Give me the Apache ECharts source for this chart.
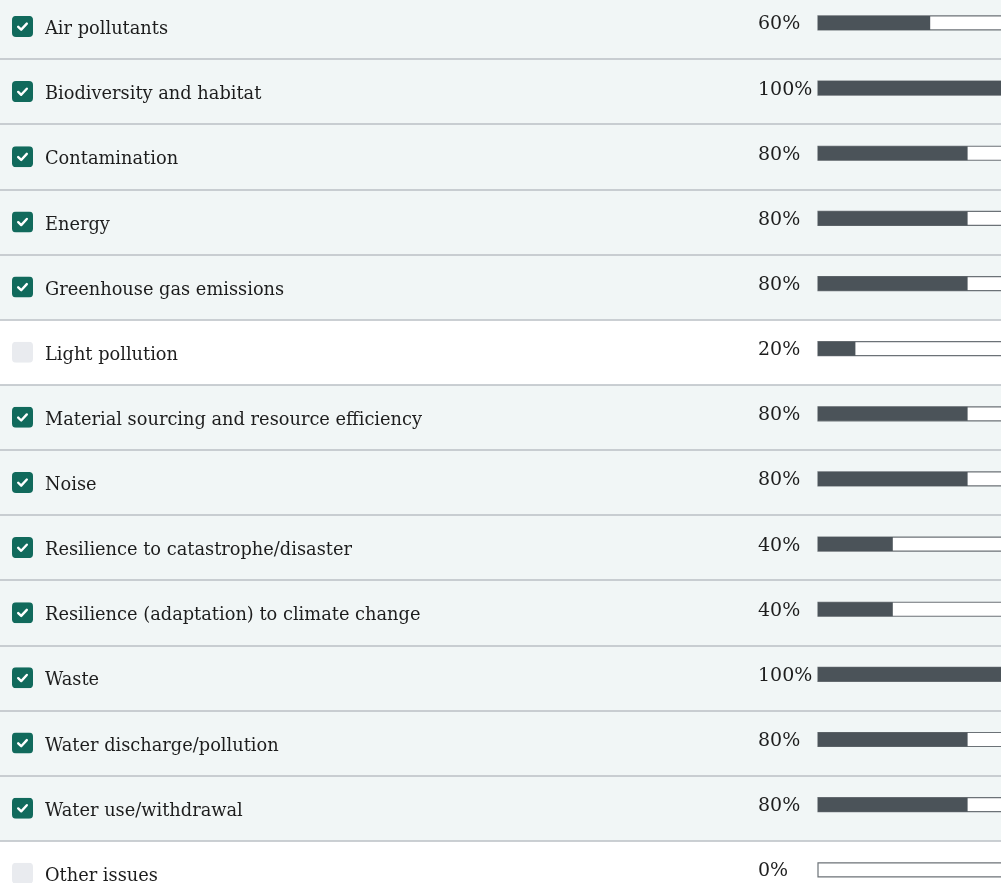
<!DOCTYPE html>
<html>
<head>
<meta charset="utf-8">
<title>Environmental issues covered</title>
<script src="https://cdn.jsdelivr.net/npm/echarts@6/dist/echarts.min.js"></script>
<style>
  html, body { margin: 0; padding: 0; background: #ffffff; }
  #chart { width: 1001px; height: 883px; }
</style>
</head>
<body>
<div id="chart"></div>
<script>
// Issues, the share of responses addressing each one, and whether it is covered
const categories = [
  'Air pollutants',
  'Biodiversity and habitat',
  'Contamination',
  'Energy',
  'Greenhouse gas emissions',
  'Light pollution',
  'Material sourcing and resource efficiency',
  'Noise',
  'Resilience to catastrophe/disaster',
  'Resilience (adaptation) to climate change',
  'Waste',
  'Water discharge/pollution',
  'Water use/withdrawal',
  'Other issues'
];
const shares = [60, 100, 80, 80, 80, 20, 80, 80, 40, 40, 100, 80, 80, 0];
const covered = [true, true, true, true, true, false, true, true, true, true, true, true, true, false];

const ROW_TOP = -6.1;
const ROW_H = 65.14;
const SERIF = '"DejaVu Serif", "Liberation Serif", serif';

// Checkbox glyphs as small SVG images
const boxOn = 'data:image/svg+xml;utf8,' + encodeURIComponent(
  '<svg xmlns="http://www.w3.org/2000/svg" width="21" height="21" viewBox="0 0 21 21">' +
  '<rect x="0" y="0" width="21" height="21" rx="4" ry="4" fill="#116a5c"/>' +
  '<path d="M6.2 10.8 L9.2 13.7 L14.8 7.6" fill="none" stroke="#ffffff" stroke-width="2.4" stroke-linecap="round" stroke-linejoin="round"/>' +
  '</svg>');
const boxOff = 'data:image/svg+xml;utf8,' + encodeURIComponent(
  '<svg xmlns="http://www.w3.org/2000/svg" width="21" height="21" viewBox="0 0 21 21">' +
  '<rect x="0" y="0" width="21" height="21" rx="4" ry="4" fill="#e9ebef"/>' +
  '</svg>');

const chart = echarts.init(document.getElementById('chart'), null, { renderer: 'canvas' });

chart.setOption({
  animation: false,
  backgroundColor: '#ffffff',
  grid: [
    {
      left: 0, width: 1001, top: ROW_TOP, height: ROW_H * categories.length,
      containLabel: false, outerBoundsMode: 'none'
    },
    {
      left: 818, width: 187, top: ROW_TOP - 3.5, height: ROW_H * categories.length,
      containLabel: false, outerBoundsMode: 'none'
    }
  ],
  xAxis: [
    { type: 'value', gridIndex: 0, min: 0, max: 1, show: false },
    { type: 'value', gridIndex: 1, min: 0, max: 100, show: false }
  ],
  yAxis: [
    {
      type: 'category',
      gridIndex: 0,
      data: categories,
      inverse: true,
      z: 5,
      axisLine: { show: false },
      axisTick: { show: false },
      splitLine: { show: true, lineStyle: { color: '#babfc4', width: 1.6 } },
      axisLabel: {
        inside: true,
        margin: 12,
        formatter: function (value, index) {
          return (covered[index] ? '{on|}' : '{off|}') + '{name|' + value + '}';
        },
        rich: {
          on: { width: 21, height: 21, backgroundColor: { image: boxOn } },
          off: { width: 21, height: 21, backgroundColor: { image: boxOff } },
          name: {
            fontFamily: SERIF,
            fontSize: 17.8,
            color: '#1d1d1d',
            padding: [6, 0, 0, 12]
          }
        }
      }
    },
    {
      type: 'category',
      gridIndex: 1,
      data: categories,
      inverse: true,
      show: false
    }
  ],
  series: [
    {
      // row backgrounds: tinted when the issue is covered
      type: 'bar',
      xAxisIndex: 0,
      yAxisIndex: 0,
      barWidth: '100%',
      silent: true,
      z: 1,
      data: covered.map(function (c) {
        return { value: 1, itemStyle: { color: c ? '#f1f6f6' : '#ffffff' } };
      })
    },
    {
      type: 'bar',
      xAxisIndex: 1,
      yAxisIndex: 1,
      barWidth: 14,
      z: 3,
      itemStyle: { color: '#4b5359' },
      showBackground: true,
      backgroundStyle: { color: '#ffffff', borderColor: '#6c7277', borderWidth: 1.2 },
      label: {
        show: true,
        position: [-60, 8.5],
        align: 'left',
        verticalAlign: 'middle',
        fontFamily: SERIF,
        fontSize: 19,
        color: '#1d1d1d',
        formatter: function (p) { return p.value + '%'; }
      },
      data: shares
    }
  ]
});
</script>
</body>
</html>
